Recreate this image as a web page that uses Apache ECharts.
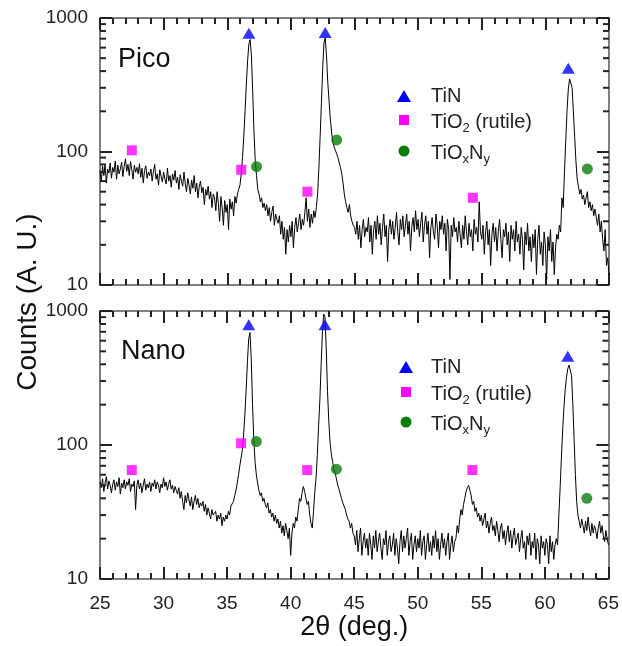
<!DOCTYPE html>
<html><head><meta charset="utf-8">
<script src="https://cdn.jsdelivr.net/npm/echarts@6/dist/echarts.min.js"></script>
<style>html,body{margin:0;padding:0;background:#fff}#c{width:622px;height:646px}</style>
</head><body><div id="c"></div>
<script>
// sampling grid of the scans (2θ, deg.)
const scanStart = 25, scanStep = 0.1;

// Pico sample counts, one row per degree (25.0 ... 64.9), then 65.0
const picoCounts = [
 72,60,78,66,80,58,74,69,82,63,
 76,70,85,62,79,68,74,83,65,77,
 88,71,80,66,84,73,62,79,70,76,
 68,81,64,75,58,72,78,63,70,66,
 74,60,71,80,62,68,56,73,65,59,
 70,62,57,75,60,66,54,68,61,72,
 58,64,52,67,60,55,70,57,50,63,
 56,48,61,53,66,50,58,45,55,60,
 49,54,40,52,47,55,44,50,38,48,
 45,36,50,41,30,46,38,28,43,35,
 40,26,44,37,42,33,46,41,48,52,
 56,68,90,130,200,320,480,640,690,520,
 280,140,85,66,52,48,42,45,38,41,
 36,40,33,38,30,35,39,28,34,31,
 29,33,24,30,22,27,17,26,21,28,
 23,30,19,27,32,25,29,34,26,31,
 28,35,45,30,37,27,34,29,36,32,
 38,48,75,130,230,420,650,710,520,330,
 240,175,140,118,108,102,96,90,82,76,
 68,58,48,42,38,35,40,33,30,28,
 27,24,30,22,28,19,26,31,23,27,
 25,32,21,28,17,26,30,22,33,24,
 29,20,27,34,23,28,15,26,31,24,
 30,22,27,35,25,20,31,26,33,23,
 28,34,24,30,18,27,32,25,36,26,
 31,23,29,35,21,28,33,24,30,16,
 27,32,25,22,34,28,19,30,26,33,
 24,29,18,31,26,11,28,23,32,25,
 27,21,30,24,19,28,22,33,25,20,
 29,23,26,18,31,24,27,21,42,25,
 22,28,17,25,30,20,26,14,24,29,
 21,27,18,25,31,22,16,26,23,29,
 20,25,15,28,22,26,18,30,21,24,
 17,27,22,13,25,20,29,18,23,15,
 24,19,26,12,22,28,17,21,14,25,
 20,11,23,18,26,15,21,12,19,24,
 22,28,25,45,38,70,120,200,290,350,
 360,300,200,130,85,62,55,48,52,44,
 47,40,45,50,38,42,36,40,33,37,
 32,28,34,25,30,22,18,26,14,16,
 12
];

// Nano sample counts
const nanoCounts = [
 53,48,56,45,52,58,47,54,50,44,
 51,55,46,53,49,57,43,52,48,55,
 47,53,50,56,45,51,49,54,33,50,
 55,47,52,44,50,56,46,51,48,53,
 45,52,49,55,47,53,50,44,51,48,
 57,49,53,46,51,55,47,50,44,49,
 46,43,48,40,45,38,33,42,37,44,
 39,35,41,33,38,42,36,40,34,37,
 35,38,32,36,30,34,31,28,33,30,
 29,32,27,30,28,31,25,29,27,30,
 28,32,30,35,34,38,42,46,52,60,
 70,80,92,120,170,260,420,620,690,440,
 200,110,75,60,52,46,42,44,38,40,
 36,34,37,31,33,29,31,27,30,26,
 28,24,27,22,25,21,26,23,20,24,
 15,22,26,24,29,27,33,40,38,44,
 49,45,40,36,38,30,26,24,32,45,
 57,85,140,220,400,700,950,900,520,250,
 150,105,86,75,66,62,56,50,47,43,
 40,37,35,33,30,28,27,24,26,22,
 21,18,23,16,20,24,15,19,22,17,
 20,15,22,18,14,21,17,23,16,19,
 22,17,14,20,18,23,15,19,21,16,
 18,22,15,20,17,13,19,23,16,21,
 17,20,24,15,19,22,14,18,21,16,
 20,17,23,15,19,21,14,18,22,16,
 19,15,21,17,23,16,20,14,18,22,
 17,20,15,19,22,14,18,21,16,19,
 20,25,22,28,33,30,36,40,45,48,
 50,46,42,36,38,32,34,29,31,27,
 30,25,28,31,24,27,22,26,29,23,
 25,21,27,23,19,24,26,20,23,18,
 22,25,19,23,17,21,24,18,20,22,
 16,20,23,17,19,14,21,18,22,15,
 19,17,22,14,20,18,13,21,17,19,
 15,20,18,13,21,16,19,14,18,20,
 18,30,48,80,130,190,260,320,370,395,
 390,330,200,110,60,38,30,27,24,28,
 25,22,27,23,29,24,21,26,22,25,
 23,20,24,27,22,25,21,19,23,20,
 18
];

// phase markers [2θ, counts]
const picoTiN    = [[36.7, 770], [42.7, 780], [61.8, 420]];
const picoTiO2   = [[27.5, 102], [36.1, 73], [41.3, 50], [54.3, 45]];
const picoTiOxNy = [[37.3, 77], [43.6, 122], [63.3, 74]];
const nanoTiN    = [[36.7, 790], [42.7, 790], [61.8, 460]];
const nanoTiO2   = [[27.5, 65], [36.1, 103], [41.3, 65], [54.3, 65]];
const nanoTiOxNy = [[37.3, 106], [43.6, 66], [63.3, 40]];

// axis ticks
const xTickMin = 25, xTickMax = 65, xTickInterval = 5;
const yMin = 10, yMax = 1000;
const yMinorTicks = [20,30,40,50,60,70,80,90,200,300,400,500,600,700,800,900];

const FONT = '"Liberation Sans", Arial, sans-serif';
const AXC = '#555555';
const TICKC = '#222222';
const BLUE = '#0000ff', MAGENTA = '#ff00ff', GREEN = '#0b7d0b';

function pairs(arr) { return arr.map((v, i) => [+(scanStart + i * scanStep).toFixed(2), v]); }

function xAx(grid, pos, labels, name) {
  const o = { type: 'value', gridIndex: grid, position: pos, min: xTickMin, max: xTickMax, interval: xTickInterval,
    axisLine: { show: true, onZero: false, lineStyle: { color: AXC, width: 1.5 } },
    axisTick: { show: true, inside: true, length: 12, lineStyle: { color: TICKC, width: 2 } },
    minorTick: { show: true, splitNumber: 5, length: 6, lineStyle: { color: TICKC, width: 2 } },
    axisLabel: { show: labels, fontSize: 19, color: '#222', margin: 15, fontFamily: FONT },
    splitLine: { show: false } };
  if (name) {
    o.name = name; o.nameLocation = 'middle'; o.nameGap = 32;
    o.nameTextStyle = { fontSize: 27, color: '#111', fontFamily: FONT };
  }
  return o;
}
function yAx(grid, pos, labels) {
  return { type: 'log', logBase: 10, gridIndex: grid, position: pos, min: yMin, max: yMax, splitNumber: 2,
    axisLine: { show: true, onZero: false, lineStyle: { color: AXC, width: 1.5 } },
    axisTick: { show: true, inside: true, length: 12, lineStyle: { color: TICKC, width: 2 } },
    axisLabel: { show: labels, fontSize: 19, color: '#222', margin: 12, fontFamily: FONT, formatter: v => String(v) },
    splitLine: { show: false } };
}
// log minor ticks on left and right edges, drawn as small filled bars
function minorTickSeries(xi, yi) {
  return { type: 'custom', xAxisIndex: xi, yAxisIndex: yi, silent: true, clip: false, z: 5,
    data: yMinorTicks.map(v => [xTickMin, v]),
    renderItem: function (params, api) {
      const v = api.value(1);
      const l = api.coord([xTickMin, v]);
      const r = api.coord([xTickMax, v]);
      return { type: 'group', children: [
        { type: 'rect', shape: { x: l[0], y: l[1] - 1, width: 6, height: 2 }, style: { fill: TICKC } },
        { type: 'rect', shape: { x: r[0] - 6, y: r[1] - 1, width: 6, height: 2 }, style: { fill: TICKC } }
      ]};
    } };
}
function lineSeries(xi, yi, arr) {
  return { type: 'line', xAxisIndex: xi, yAxisIndex: yi, data: pairs(arr), showSymbol: false,
    lineStyle: { color: '#000', width: 1 }, clip: true, z: 3, animation: false };
}
function markSeries(xi, yi, arr, symbol, size, color) {
  return { type: 'scatter', xAxisIndex: xi, yAxisIndex: yi, data: arr, symbol: symbol, symbolSize: size,
    itemStyle: { color: color }, z: 4, animation: false };
}
function legendGraphics(cx, ys, tx) {
  const txt = (y, text) => ({ type: 'text', x: tx, y: y, style: {
      text: text, fontSize: 20, fontFamily: FONT, fill: '#222', verticalAlign: 'middle', lineHeight: 26,
      rich: { s: { fontSize: 13, lineHeight: 13, fontFamily: FONT, fill: '#222', verticalAlign: 'bottom' } } } });
  return [
    { type: 'polygon', shape: { points: [[cx, ys[0] - 6], [cx + 7, ys[0] + 6], [cx - 7, ys[0] + 6]] }, style: { fill: BLUE } },
    { type: 'rect', shape: { x: cx - 5, y: ys[1] - 5, width: 10, height: 10 }, style: { fill: MAGENTA } },
    { type: 'circle', shape: { cx: cx, cy: ys[2], r: 5.5 }, style: { fill: GREEN } },
    txt(ys[0], 'TiN'),
    txt(ys[1] + 2, 'TiO{s|2} (rutile)'),
    txt(ys[2] + 2, 'TiO{s|x}N{s|y}')
  ];
}

const chart = echarts.init(document.getElementById('c'));
chart.setOption({
  animation: false,
  grid: [
    { left: 100, top: 18, width: 509, height: 267 },
    { left: 100, top: 311, width: 509, height: 268 }
  ],
  xAxis: [xAx(0, 'bottom', false), xAx(0, 'top', false), xAx(1, 'bottom', true, '2θ (deg.)'), xAx(1, 'top', false)],
  yAxis: [yAx(0, 'left', true), yAx(0, 'right', false), yAx(1, 'left', true), yAx(1, 'right', false)],
  series: [
    lineSeries(0, 0, picoCounts),
    markSeries(0, 0, picoTiN, 'triangle', [13, 11], BLUE),
    markSeries(0, 0, picoTiO2, 'rect', 10, MAGENTA),
    markSeries(0, 0, picoTiOxNy, 'circle', 11, GREEN),
    minorTickSeries(0, 0),
    lineSeries(2, 2, nanoCounts),
    markSeries(2, 2, nanoTiN, 'triangle', [13, 11], BLUE),
    markSeries(2, 2, nanoTiO2, 'rect', 10, MAGENTA),
    markSeries(2, 2, nanoTiOxNy, 'circle', 11, GREEN),
    minorTickSeries(2, 2)
  ],
  graphic: [
    { type: 'text', x: 118, y: 60, style: { text: 'Pico', fontSize: 27, fontFamily: FONT, fill: '#111', verticalAlign: 'middle' } },
    { type: 'text', x: 121, y: 352, style: { text: 'Nano', fontSize: 27, fontFamily: FONT, fill: '#111', verticalAlign: 'middle' } },
    { type: 'text', x: 28, y: 302, rotation: Math.PI / 2, style: { text: 'Counts (A. U.)', fontSize: 28, fontFamily: FONT, fill: '#111', align: 'center', verticalAlign: 'middle' } }
  ].concat(legendGraphics(404, [96, 120, 151], 431)).concat(legendGraphics(406, [367, 392, 422], 431))
});
</script></body></html>
